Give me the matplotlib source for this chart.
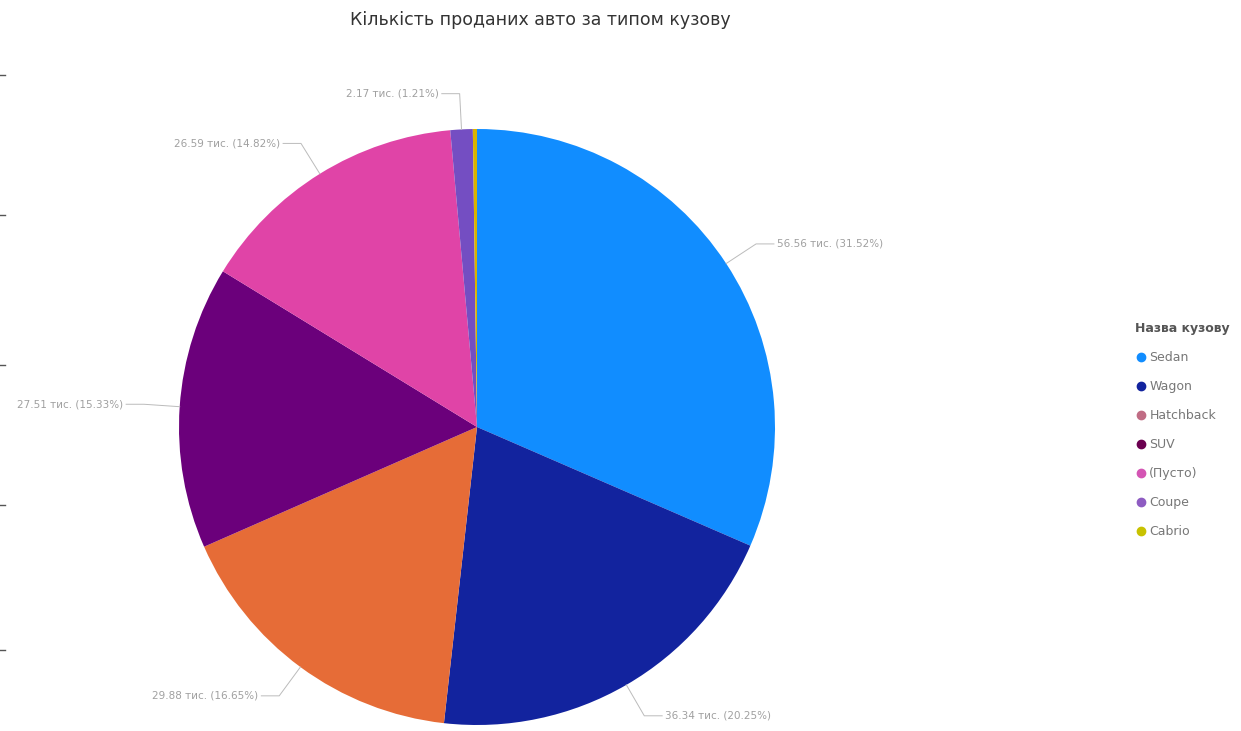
import numpy as np
import matplotlib.pyplot as plt
from matplotlib.lines import Line2D

plt.rcParams['font.family'] = ['DejaVu Sans']

# продажі за типом кузову, тис. авто
body_types = ['Sedan', 'Wagon', 'Hatchback', 'SUV', '(Пусто)', 'Coupe', 'Cabrio']
sales_k = [56.56, 36.34, 29.88, 27.51, 26.59, 2.17, 0.40]

slice_colors = ['#118DFF', '#12239E', '#E66C37', '#6B007B', '#E044A7', '#744EC2', '#D9B300']
legend_colors = ['#118DFF', '#12239E', '#C06C84', '#6B0050', '#D455B4', '#8E5CC2', '#C8C200']

fig = plt.figure(figsize=(12.41, 7.31), dpi=100)
W, H = 1241, 731

# pie centred at (477, 427) px with radius 298 px
cx, cy, r = 477, 427, 298
ax = fig.add_axes([(cx - r) / W, (H - cy - r) / H, 2 * r / W, 2 * r / H])
wedges, _ = ax.pie(sales_k, colors=slice_colors, startangle=90, counterclock=False,
                   radius=1, wedgeprops=dict(linewidth=0))
ax.set_xlim(-1, 1)
ax.set_ylim(-1, 1)
ax.set_aspect('equal')
ax.axis('off')

total = sum(sales_k)
lbl_col = '#a0a0a0'
for i, w in enumerate(wedges):
    if i == len(wedges) - 1:
        continue  # cabrio label is hidden
    ang = np.deg2rad((w.theta1 + w.theta2) / 2)
    x0, y0 = np.cos(ang), np.sin(ang)
    x1, y1 = 1.12 * x0, 1.12 * y0
    side = 1 if x0 >= 0 else -1
    x2 = x1 + side * 0.06
    ax.plot([x0, x1, x2], [y0, y1, y1], color='#bbbbbb', lw=0.7, clip_on=False)
    pct = sales_k[i] / total * 100
    txt = f'{sales_k[i]:.2f} тис. ({pct:.2f}%)'
    ax.text(x2 + side * 0.01, y1, txt, ha='left' if side > 0 else 'right', va='center',
            fontsize=7.5, color=lbl_col, clip_on=False)

fig.text(540 / W, 1 - 20 / H, 'Кількість проданих авто за типом кузову',
         ha='center', va='center', fontsize=12.5, color='#333333')

handles = [Line2D([], [], marker='o', linestyle='none', markersize=6,
                  markerfacecolor=c, markeredgecolor=c) for c in legend_colors]
leg = fig.legend(handles, body_types, loc='upper left',
                 bbox_to_anchor=(1130 / W, 1 - 317 / H), frameon=False,
                 title='Назва кузову', fontsize=9, labelspacing=1.28,
                 handletextpad=0.15, handlelength=1.0, borderaxespad=0)
leg._legend_box.align = 'left'
leg.get_title().set_fontweight('bold')
leg.get_title().set_fontsize(9)
leg.get_title().set_color('#555555')
for t in leg.get_texts():
    t.set_color('#777777')

# small tick marks on the left border
for y in [75, 215, 365, 505, 650]:
    fig.add_artist(Line2D([0, 5 / W], [1 - y / H, 1 - y / H], color='#555555', lw=1))

fig.savefig('out.png', dpi=100, facecolor='white')
